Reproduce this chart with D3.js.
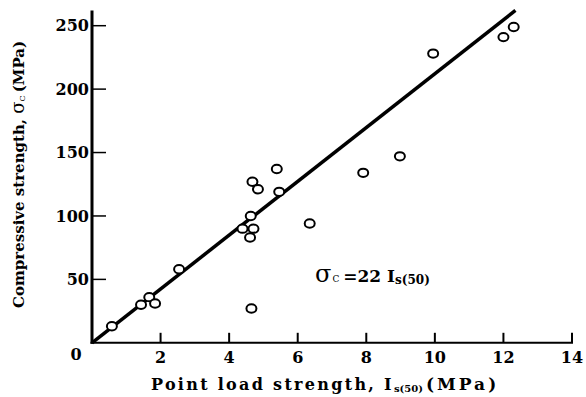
<!DOCTYPE html>
<html>
<head>
<meta charset="utf-8">
<script src="https://cdn.jsdelivr.net/npm/d3@7"></script>
<style>
  body { margin: 0; background: #fff; }
  svg { display: block; font-family: "DejaVu Serif", serif; font-weight: bold; }
</style>
</head>
<body>
<div id="chart"></div>
<script>
// Point load strength Is(50) (MPa) vs compressive strength (MPa).
const pointLoad = [0.58, 1.43, 1.67, 1.84, 2.54, 4.65, 4.39, 4.71, 4.61, 4.63,
                   4.68, 4.84, 5.46, 5.39, 6.35, 7.91, 8.98, 9.95, 12.0, 12.3];
const compressive = [13, 30, 36, 31, 58, 27, 90, 90, 83, 100,
                     127, 121, 119, 137, 94, 134, 147, 228, 241, 249];

// Drawn fit line end points (goes from origin to top of the axis).
const fitIs = [0, 12.35];
const fitSigma = [0, 262];

const xTicks = [2, 4, 6, 8, 10, 12, 14];
const yTicks = [50, 100, 150, 200, 250];
const yTop = 262;

const width = 586, height = 397;

const x = d3.scaleLinear().domain([0, 14]).range([92, 572]);
const y = d3.scaleLinear().domain([0, 250]).range([342.8, 25.7]);

const svg = d3.select("#chart").append("svg")
    .attr("width", width)
    .attr("height", height)
    .attr("viewBox", [0, 0, width, height]);

// axes lines
svg.append("line")
    .attr("x1", x(0)).attr("x2", x(0))
    .attr("y1", y(0) + 1).attr("y2", y(yTop))
    .attr("stroke", "#000").attr("stroke-width", 3);
svg.append("line")
    .attr("x1", x(0) - 1.5).attr("x2", x(14) + 1)
    .attr("y1", y(0)).attr("y2", y(0))
    .attr("stroke", "#000").attr("stroke-width", 2);

// x ticks point up, inside the plot
const xg = svg.append("g");
xg.selectAll("line").data(xTicks).join("line")
    .attr("x1", d => x(d)).attr("x2", d => x(d))
    .attr("y1", y(0)).attr("y2", y(0) - 10)
    .attr("stroke", "#000").attr("stroke-width", 2);
xg.selectAll("text").data(xTicks).join("text")
    .attr("x", d => x(d))
    .attr("y", y(0) + 20)
    .attr("text-anchor", "middle")
    .attr("font-size", 16)
    .text(d => d);

// y ticks point right
const yg = svg.append("g");
yg.selectAll("line").data(yTicks).join("line")
    .attr("x1", x(0)).attr("x2", x(0) + 14)
    .attr("y1", d => y(d)).attr("y2", d => y(d))
    .attr("stroke", "#000").attr("stroke-width", 1.5);
yg.selectAll("text").data(yTicks).join("text")
    .attr("x", x(0) - 3)
    .attr("y", d => y(d))
    .attr("dy", "0.36em")
    .attr("text-anchor", "end")
    .attr("font-size", 16)
    .text(d => d);

// origin label
svg.append("text")
    .attr("x", 76).attr("y", y(0) + 17)
    .attr("text-anchor", "middle")
    .attr("font-size", 16)
    .text("0");

// fit line
svg.append("line")
    .attr("x1", x(fitIs[0])).attr("y1", y(fitSigma[0]))
    .attr("x2", x(fitIs[1])).attr("y2", y(fitSigma[1]))
    .attr("stroke", "#000").attr("stroke-width", 3.5);

// data points, open circles
svg.append("g").selectAll("ellipse")
    .data(pointLoad.map((d, i) => [d, compressive[i]]))
    .join("ellipse")
    .attr("cx", d => x(d[0]))
    .attr("cy", d => y(d[1]))
    .attr("rx", 5)
    .attr("ry", 4.2)
    .attr("fill", "#fff")
    .attr("stroke", "#000")
    .attr("stroke-width", 2);

// equation
const eq = svg.append("text")
    .attr("x", 315).attr("y", 282)
    .attr("font-size", 17);
eq.append("tspan").attr("font-weight", "normal").attr("font-size", 24).text("σ");
eq.append("tspan").attr("font-weight", "normal").attr("font-size", 9).attr("dy", 0).attr("dx", 1).text("C");
eq.append("tspan").attr("dx", 4).text("=22 I");
eq.append("tspan").attr("font-size", 12).attr("dy", 2).text("s(50)");

// x axis title
const xt = svg.append("text")
    .attr("x", 151).attr("y", 390)
    .attr("font-size", 16);
xt.append("tspan").attr("letter-spacing", 2.3).text("Point load strength, I");
xt.append("tspan").attr("font-size", 10).attr("dy", 2).text("s(50)");
xt.append("tspan").attr("font-size", 17).attr("dy", -2).attr("dx", 3)
    .attr("letter-spacing", 3).text("(MPa)");

// y axis title
const yt = svg.append("text")
    .attr("transform", "translate(24,308) rotate(-90)")
    .attr("font-size", 15);
yt.append("tspan").text("Compressive strength, ");
yt.append("tspan").attr("font-weight", "normal").attr("font-size", 18).text("σ");
yt.append("tspan").attr("font-weight", "normal").attr("font-size", 8).attr("dy", 1).text("C");
yt.append("tspan").attr("dy", -1).attr("dx", 3).text("(MPa)");
</script>
</body>
</html>
